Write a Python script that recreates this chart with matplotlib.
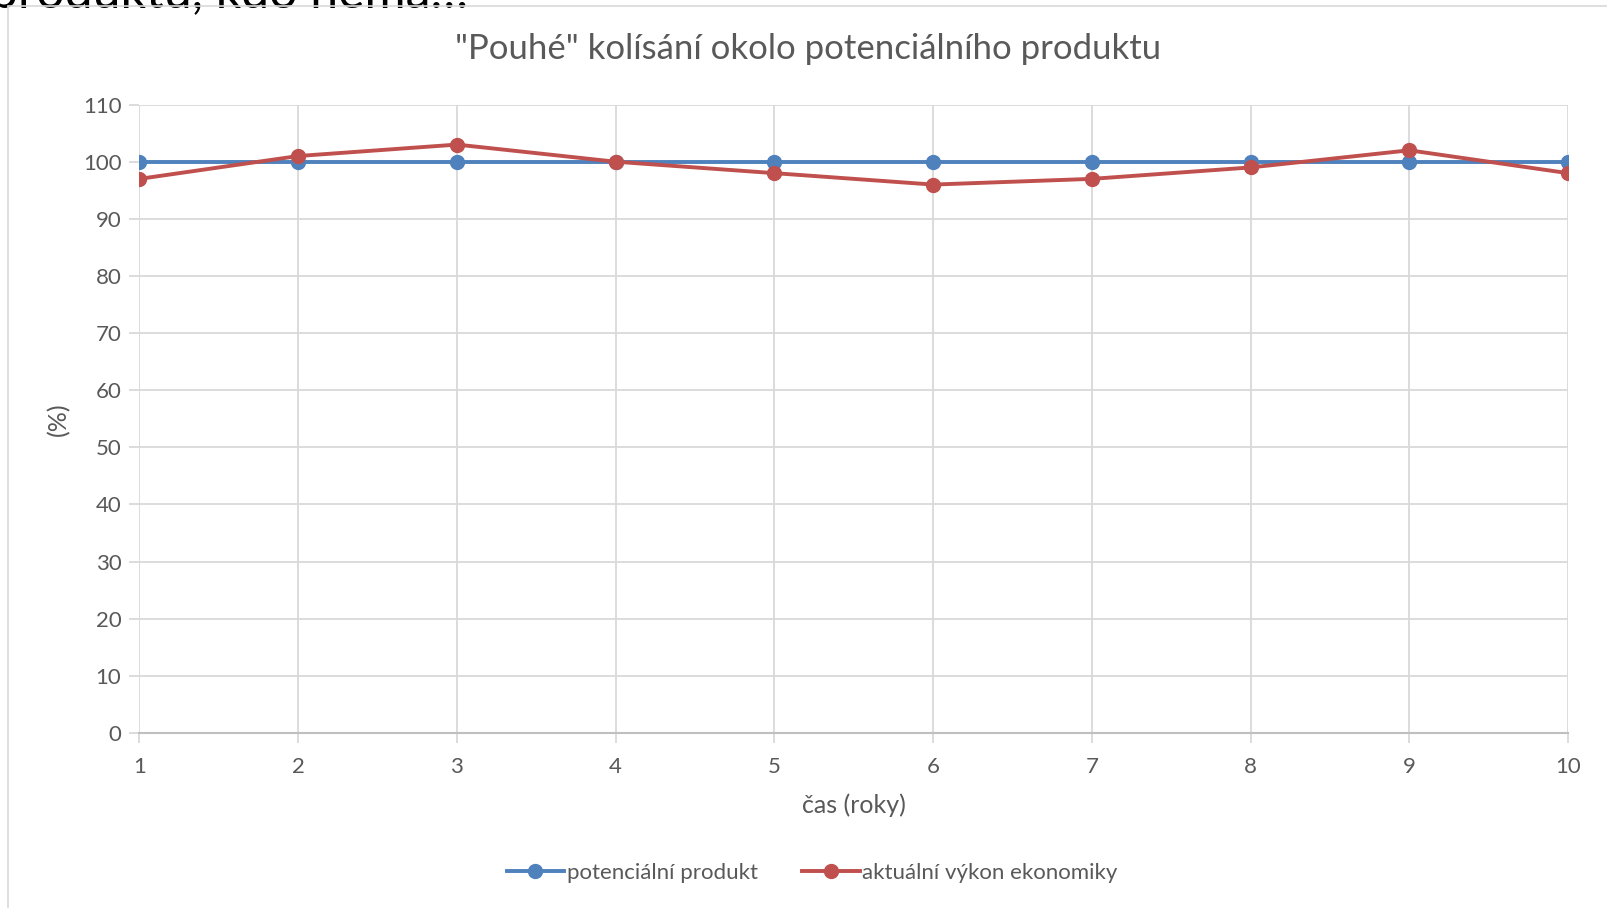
import matplotlib.pyplot as plt
from matplotlib.patches import Rectangle

plt.rcParams['font.family'] = ['Lato', 'DejaVu Sans']

years = [1, 2, 3, 4, 5, 6, 7, 8, 9, 10]
potencialni = [100, 100, 100, 100, 100, 100, 100, 100, 100, 100]
aktualni = [97, 101, 103, 100, 98, 96, 97, 99, 102, 98]
y_ticks = list(range(0, 111, 10))

W, H = 1608, 908
fig = plt.figure(figsize=(W / 100, H / 100), dpi=100)

# ramecek grafu (pravy a spodni okraj je mimo obrazek)
fig.patches.append(Rectangle((8 / W, -0.1), 1.2, 1 - 6 / H + 0.1, transform=fig.transFigure,
                             fill=False, edgecolor='#D9D9D9', linewidth=1.2))
# oriznuty text ze slajdu nad grafem
fig.text(-0.006, 1 - 8 / H, 'produktu, kdo nemá…', fontsize=36, color='black',
         va='baseline', ha='left', zorder=0)

ax = fig.add_axes([139.5 / W, 1 - 733 / H, (1568 - 139.5) / W, (733 - 104.6) / H])
gray = '#595959'
grid = '#D9D9D9'

ax.plot(years, potencialni, color='#4F81BD', linewidth=2.8, marker='o', markersize=10,
        label='potenciální produkt', zorder=3)
ax.plot(years, aktualni, color='#C0504D', linewidth=2.8, marker='o', markersize=10,
        label='aktuální výkon ekonomiky', zorder=4)

ax.set_xlim(1, 10)
ax.set_ylim(0, 110)
ax.set_xticks(years)
ax.set_yticks(y_ticks)
ax.grid(True, color=grid, linewidth=1.3)
ax.set_axisbelow(True)
for s in ['top', 'right', 'left']:
    ax.spines[s].set_visible(False)
ax.spines['bottom'].set_color('#BFBFBF')
ax.spines['bottom'].set_linewidth(1.5)
ax.tick_params(axis='x', colors=grid, length=7, width=1.3, labelcolor=gray, labelsize=16, pad=10)
ax.tick_params(axis='y', colors=grid, length=7, width=1.3, labelcolor=gray, labelsize=16, pad=6)

fig.text(808 / W, 1 - 49 / H, '"Pouhé" kolísání okolo potenciálního produktu', fontsize=25,
         color=gray, ha='center', va='center')
ax.set_xlabel('čas (roky)', fontsize=18, color=gray, labelpad=12)
ax.set_ylabel('(%)', fontsize=18, color=gray, labelpad=9)

ax.legend(loc='center', bbox_to_anchor=(812 / W, 1 - 873 / H), bbox_transform=fig.transFigure,
          ncol=2, frameon=False, fontsize=16, labelcolor=gray, handlelength=2.6,
          handletextpad=0.1, columnspacing=2.0)

fig.savefig('out.png', dpi=100)
